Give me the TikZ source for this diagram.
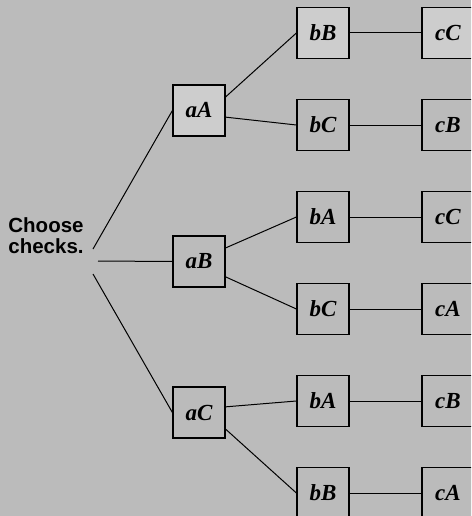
\documentclass[tikz,border=0pt]{standalone}
\usepackage{fontspec}
\setmainfont{Liberation Serif}
\setsansfont{Liberation Sans}
\definecolor{bg}{RGB}{187,187,187}
\definecolor{lit}{RGB}{205,205,205}
\begin{document}
\begin{tikzpicture}[x=1pt,y=-1pt,line width=1pt,
  box/.style={rectangle,draw,line width=1.2pt,fill=bg,minimum width=52pt,minimum height=51pt,inner sep=0pt,
    font=\fontsize{23}{23}\selectfont\bfseries\itshape},
  hit/.style={box,fill=lit}]
  \fill[bg] (0,0) rectangle (471,516);
  \useasboundingbox (0,0) rectangle (471,516);
  \clip (0,0) rectangle (471,516);
  \node[align=center,font=\fontsize{20.5}{21}\selectfont\sffamily\bfseries] (choose) at (46,236) {Choose\\checks.};
  \coordinate (s1) at (93,249);
  \coordinate (s2) at (98,261);
  \coordinate (s3) at (93,274);
  \node[hit] (aA) at (199,110.5) {aA};
  \node[box] (aB) at (199,261.5) {aB};
  \node[box] (aC) at (199,412.5) {aC};
  \node[hit] (bB1) at (323,33) {bB};
  \node[box] (bC1) at (323,125) {bC};
  \node[box] (bA2) at (323,217) {bA};
  \node[box] (bC2) at (323,309) {bC};
  \node[box] (bA3) at (323,401) {bA};
  \node[box] (bB3) at (323,493) {bB};
  \node[hit] (cC1) at (448,33) {cC};
  \node[box] (cB1) at (448,125) {cB};
  \node[box] (cC2) at (448,217) {cC};
  \node[box] (cA2) at (448,309) {cA};
  \node[box] (cB3) at (448,401) {cB};
  \node[box] (cA3) at (448,493) {cA};
  \draw[-](s1)--(aA.west);
  \draw[-](s2)--(aB.west);
  \draw[-](s3)--(aC.west);
  \draw[-](aA.27)--(bB1.west);
  \draw[-](aA.-14)--(bC1.west);
  \draw[-](aB.27)--(bA2.west);
  \draw[-](aB.-30)--(bC2.west);
  \draw[-](aC.12)--(bA3.west);
  \draw[-](aC.-32)--(bB3.west);
  \draw[-](bB1)--(cC1);
  \draw[-](bC1)--(cB1);
  \draw[-](bA2)--(cC2);
  \draw[-](bC2)--(cA2);
  \draw[-](bA3)--(cB3);
  \draw[-](bB3)--(cA3);
\end{tikzpicture}
\end{document}
